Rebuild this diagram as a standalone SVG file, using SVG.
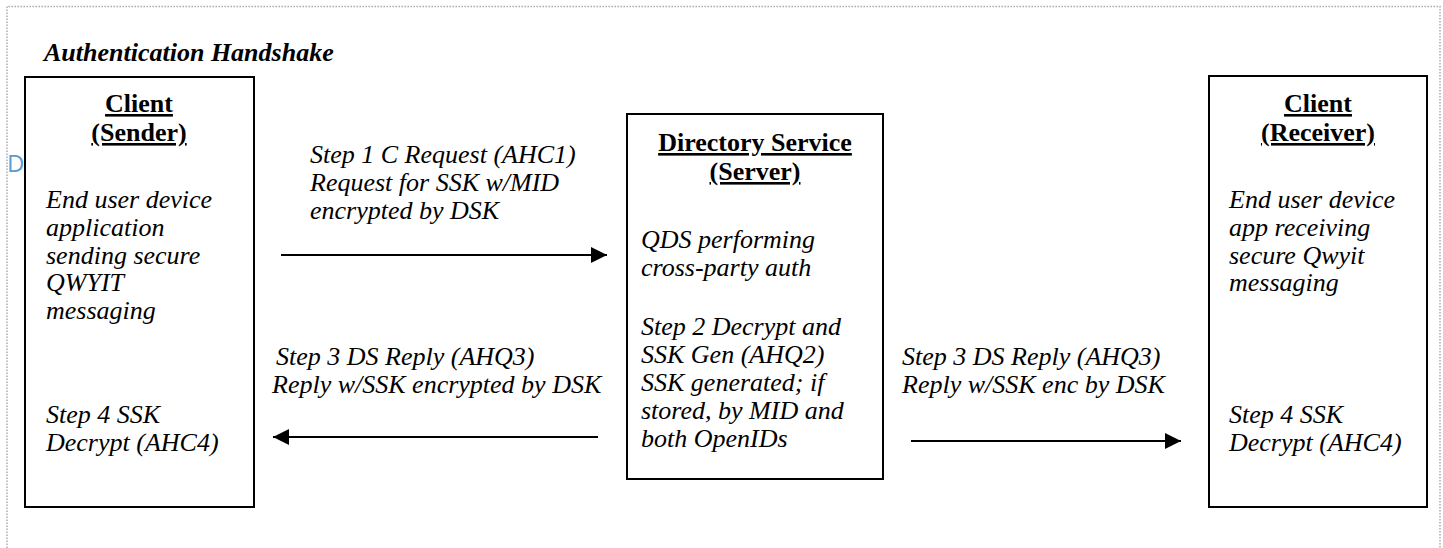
<svg xmlns="http://www.w3.org/2000/svg" width="1443" height="548" viewBox="0 0 1443 548">
<style>
  .t{font-family:"Liberation Serif","Times New Roman",serif;font-size:26px;font-style:italic;fill:#000}
  .h{font-family:"Liberation Serif","Times New Roman",serif;font-size:26px;font-weight:bold;fill:#000;text-decoration:underline;text-anchor:middle}
  .box{fill:#fff;stroke:#000;stroke-width:2}
  .conn{stroke:#000;stroke-width:2;fill:none}
</style>
<defs>
  <marker id="ah" markerWidth="16" markerHeight="16" refX="16" refY="8" orient="auto" markerUnits="userSpaceOnUse">
    <path d="M0,0 L16,8 L0,16 Z" fill="#000"/>
  </marker>
</defs>
<rect width="1443" height="548" fill="#fff"/>
<path d="M7,560 V6.5 H1440 V560" fill="none" stroke="#aaa" stroke-width="1.5" stroke-dasharray="1.5,1.5"/>
<text x="44" y="61" style="font-family:'Liberation Serif','Times New Roman',serif;font-size:26px;font-weight:bold;font-style:italic">Authentication Handshake</text>
<text x="7" y="172" style="font-family:'Open Sans','Liberation Sans',sans-serif;font-size:24px;fill:#5b9bd5">D</text>

<g id="sender">
  <rect class="box" x="25" y="77" width="229" height="430"/>
  <text class="h" x="139" y="112">Client</text>
  <text class="h" x="139" y="141">(Sender)</text>
  <text class="t" x="46" y="208">End user device</text>
  <text class="t" x="46" y="236">application</text>
  <text class="t" x="46" y="264">sending secure</text>
  <text class="t" x="46" y="291">QWYIT</text>
  <text class="t" x="46" y="319">messaging</text>
  <text class="t" x="46" y="423">Step 4 SSK</text>
  <text class="t" x="46" y="451">Decrypt (AHC4)</text>
</g>

<g id="server">
  <rect class="box" x="627" y="114" width="256" height="365"/>
  <text class="h" x="755" y="151">Directory Service</text>
  <text class="h" x="755" y="180">(Server)</text>
  <text class="t" x="641" y="248">QDS performing</text>
  <text class="t" x="641" y="276">cross-party auth</text>
  <text class="t" x="641" y="335">Step 2 Decrypt and</text>
  <text class="t" x="641" y="363">SSK Gen (AHQ2)</text>
  <text class="t" x="641" y="391">SSK generated; if</text>
  <text class="t" x="641" y="419">stored, by MID and</text>
  <text class="t" x="641" y="447">both OpenIDs</text>
</g>

<g id="receiver">
  <rect class="box" x="1209" y="76" width="218" height="431"/>
  <text class="h" x="1318" y="112">Client</text>
  <text class="h" x="1318" y="141">(Receiver)</text>
  <text class="t" x="1229" y="208">End user device</text>
  <text class="t" x="1229" y="236">app receiving</text>
  <text class="t" x="1229" y="264">secure Qwyit</text>
  <text class="t" x="1229" y="291">messaging</text>
  <text class="t" x="1229" y="423">Step 4 SSK</text>
  <text class="t" x="1229" y="451">Decrypt (AHC4)</text>
</g>

<g id="connectors">
  <line class="conn" x1="281" y1="255" x2="607" y2="255" marker-end="url(#ah)"/>
  <line class="conn" x1="598" y1="437" x2="273" y2="437" marker-end="url(#ah)"/>
  <line class="conn" x1="911" y1="441" x2="1181" y2="441" marker-end="url(#ah)"/>
  <text class="t" x="310" y="163">Step 1 C Request (AHC1)</text>
  <text class="t" x="310" y="191">Request for SSK w/MID</text>
  <text class="t" x="310" y="219">encrypted by DSK</text>
  <text class="t" x="276" y="365">Step 3 DS Reply (AHQ3)</text>
  <text class="t" x="272" y="393">Reply w/SSK encrypted by DSK</text>
  <text class="t" x="902" y="365">Step 3 DS Reply (AHQ3)</text>
  <text class="t" x="902" y="393">Reply w/SSK enc by DSK</text>
</g>
</svg>
